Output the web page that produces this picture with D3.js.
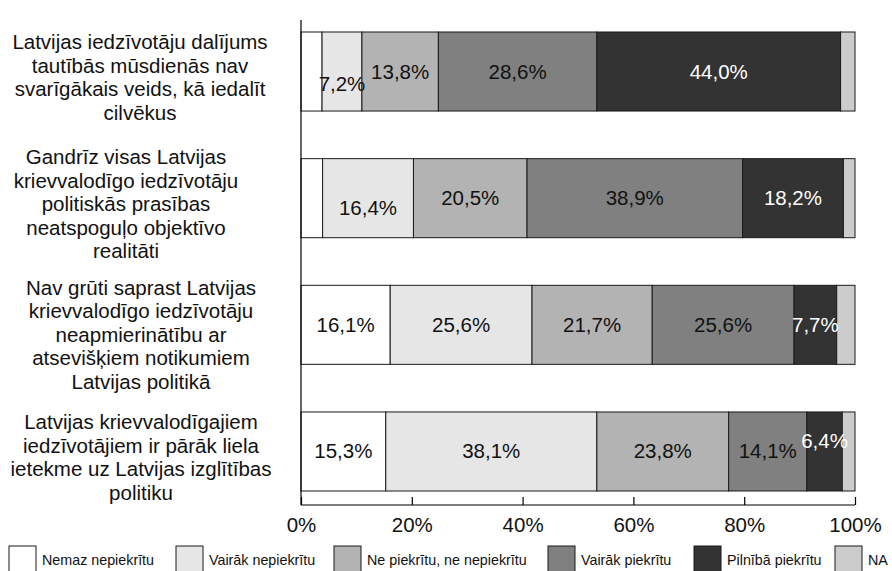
<!DOCTYPE html>
<html>
<head>
<meta charset="utf-8">
<script src="https://cdn.jsdelivr.net/npm/d3@7"></script>
<style>
  html, body { margin: 0; padding: 0; background: #fff; }
  svg { display: block; font-family: "Liberation Sans", Arial, Helvetica, sans-serif; }
</style>
</head>
<body>
<svg id="chart" width="892" height="571"></svg>
<script>
// ---- data ----
const categories = [
  ["Latvijas iedzīvotāju dalījums", "tautībās mūsdienās nav", "svarīgākais veids, kā iedalīt", "cilvēkus"],
  ["Gandrīz visas Latvijas", "krievvalodīgo iedzīvotāju", "politiskās prasības", "neatspoguļo objektīvo", "realitāti"],
  ["Nav grūti saprast Latvijas", "krievvalodīgo iedzīvotāju", "neapmierinātību ar", "atsevišķiem notikumiem", "Latvijas politikā"],
  ["Latvijas krievvalodīgajiem", "iedzīvotājiem ir pārāk liela", "ietekme uz Latvijas izglītības", "politiku"]
];
const seriesNames = ["Nemaz nepiekrītu", "Vairāk nepiekrītu", "Ne piekrītu, ne nepiekrītu", "Vairāk piekrītu", "Pilnībā piekrītu", "NA"];
const nemazNepiekritu   = [3.8, 3.9, 16.1, 15.3];
const vairakNepiekritu  = [7.2, 16.4, 25.6, 38.1];
const nePiekritu        = [13.8, 20.5, 21.7, 23.8];
const vairakPiekritu    = [28.6, 38.9, 25.6, 14.1];
const pilnibaPiekritu   = [44.0, 18.2, 7.7, 6.4];
const na                = [2.6, 2.1, 3.3, 2.3];
const xTicks = [0, 20, 40, 60, 80, 100];

// ---- style / layout ----
const colors = ["#ffffff", "#e6e6e6", "#b3b3b3", "#808080", "#333333", "#cccccc"];
const textColors = ["#111", "#111", "#111", "#111", "#ffffff", "#111"];
const labelNudge = { "0-1": 12, "1-1": 10, "3-4": -10 };
const catLabelX = [140, 126, 141, 141];
const catLabelDy = [0, 0, 4, 0];
const legendX = [9, 176, 334, 548, 694, 835];

const values = [nemazNepiekritu, vairakNepiekritu, nePiekritu, vairakPiekritu, pilnibaPiekritu, na];
const rows = categories.map((c, i) => {
  const r = { idx: i };
  seriesNames.forEach((s, j) => r[s] = values[j][i]);
  return r;
});
const stacked = d3.stack().keys(seriesNames)(rows);

const svg = d3.select("#chart");
const x = d3.scaleLinear().domain([0, 100]).range([301, 855]);
const y = d3.scaleBand().domain(d3.range(categories.length)).range([32, 491]).paddingInner(0.376).paddingOuter(0);

const fmt = v => d3.format(".1f")(v).replace(".", ",") + "%";

// bars
const layers = svg.append("g").selectAll("g").data(stacked).join("g")
  .attr("fill", (d, j) => colors[j]);
layers.selectAll("rect").data(d => d).join("rect")
  .attr("x", d => x(d[0]))
  .attr("y", (d, i) => y(i))
  .attr("width", d => x(d[1]) - x(d[0]))
  .attr("height", y.bandwidth())
  .attr("stroke", "#1a1a1a")
  .attr("stroke-width", 1);

// value labels
stacked.forEach((layer, j) => {
  if (seriesNames[j] === "NA") return;
  layer.forEach((d, i) => {
    const v = d[1] - d[0];
    if (v < 5) return;
    const nudge = labelNudge[i + "-" + j] || 0;
    svg.append("text")
      .attr("x", (x(d[0]) + x(d[1])) / 2)
      .attr("y", y(i) + y.bandwidth() / 2 + 7 + nudge)
      .attr("text-anchor", "middle")
      .attr("font-size", "20.5px")
      .attr("fill", textColors[j])
      .text(fmt(v));
  });
});

// category labels
categories.forEach((lines, i) => {
  const cy = y(i) + y.bandwidth() / 2 + catLabelDy[i];
  const n = lines.length;
  const t = svg.append("text")
    .attr("text-anchor", "middle")
    .attr("font-size", "20.5px")
    .attr("fill", "#111");
  lines.forEach((ln, k) => {
    t.append("tspan")
      .attr("x", catLabelX[i])
      .attr("y", cy + (k - (n - 1) / 2) * 23.5 + 13)
      .text(ln);
  });
});

// axes
const axisY = 505;
svg.append("line").attr("x1", 301).attr("x2", 301).attr("y1", 20).attr("y2", axisY)
  .attr("stroke", "#000").attr("stroke-width", 1.2);
const xAxis = d3.axisBottom(x).tickValues(xTicks).tickSize(-8).tickPadding(16).tickFormat(d => d + "%");
const gx = svg.append("g").attr("transform", `translate(0,${axisY})`).call(xAxis);
gx.select(".domain").attr("stroke", "#000").attr("stroke-width", 1.2).attr("d", `M${x(0)},0H${x(100)}`);
gx.selectAll(".tick line").attr("stroke", "#000").attr("stroke-width", 1.2);
gx.selectAll(".tick text").attr("font-size", "20.5px").attr("fill", "#111")
  .attr("font-family", "'Liberation Sans', Arial, sans-serif").attr("dy", "0.71em").attr("y", 12);

// legend
const legend = svg.append("g");
seriesNames.forEach((s, j) => {
  const lx = legendX[j];
  legend.append("rect").attr("x", lx).attr("y", 546).attr("width", 27).attr("height", 32)
    .attr("fill", colors[j]).attr("stroke", "#1a1a1a").attr("stroke-width", 1);
  legend.append("text").attr("x", lx + 33).attr("y", 565)
    .attr("font-size", "14.3px").attr("fill", "#111").text(s);
});
</script>
</body>
</html>
